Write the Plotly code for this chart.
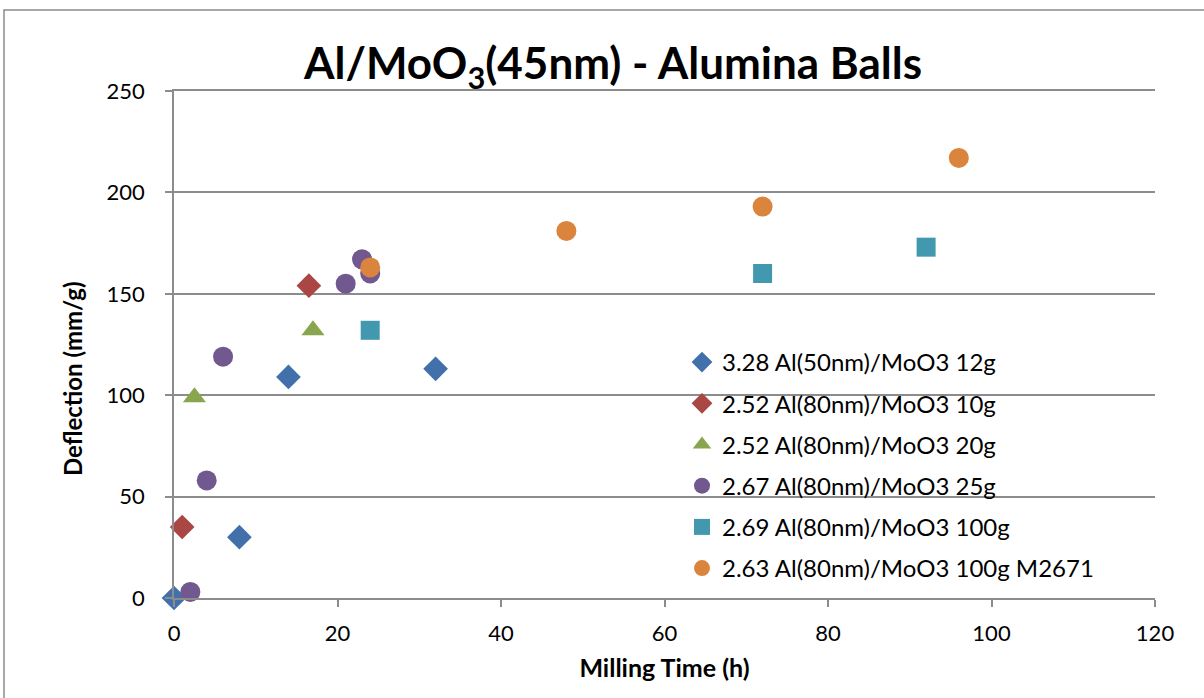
import plotly.graph_objects as go

series_names = [
    "3.28 Al(50nm)/MoO3 12g",
    "2.52 Al(80nm)/MoO3 10g",
    "2.52 Al(80nm)/MoO3 20g",
    "2.67 Al(80nm)/MoO3 25g",
    "2.69 Al(80nm)/MoO3 100g",
    "2.63 Al(80nm)/MoO3 100g M2671",
]
x_blue = [0, 8, 14, 32]
y_blue = [0, 30, 109, 113]
x_red = [1, 16.5]
y_red = [35, 154]
x_green = [2.5, 17]
y_green = [99, 132]
x_purple = [2, 4, 6, 21, 23, 24]
y_purple = [3, 58, 119, 155, 167, 160]
x_teal = [24, 72, 92]
y_teal = [132, 160, 173]
x_orange = [24, 48, 72, 96]
y_orange = [163, 181, 193, 217]

xs = [x_blue, x_red, x_green, x_purple, x_teal, x_orange]
ys = [y_blue, y_red, y_green, y_purple, y_teal, y_orange]
colors = ["#4170AB", "#AA4643", "#89A54E", "#71588F", "#4198AF", "#DB843D"]
symbols = ["diamond", "diamond", "triangle-up", "circle", "square", "circle"]
sizes = [19, 19, 20, 20, 19, 20]

fig = go.Figure()
for i in range(6):
    fig.add_trace(go.Scatter(
        x=xs[i], y=ys[i], mode="markers", name=series_names[i],
        legendgroup=f"g{i}", cliponaxis=False,
        marker=dict(symbol=symbols[i], color=colors[i], size=sizes[i], line=dict(width=0)),
    ))

font_family = "Lato, Open Sans, sans-serif"
L, R, T, B = 174, 49, 91, 100
W, H = 1204, 698
pw, ph = W - L - R, H - T - B
grey = "#8c8c8c"

fig.update_layout(
    width=W, height=H,
    margin=dict(l=L, r=R, t=T, b=B),
    paper_bgcolor="white", plot_bgcolor="white",
    font=dict(family=font_family, color="black", size=22),
    title=dict(text="<b>Al/MoO<sub>3</sub>(45nm) - Alumina Balls</b>",
               x=(613 - L) / pw, xref="paper", xanchor="center",
               y=1 - 64 / H, yanchor="middle",
               font=dict(size=44, family=font_family)),
    xaxis=dict(range=[0, 120], dtick=20, showgrid=False, zeroline=False,
               showline=True, linecolor=grey, linewidth=1.5, mirror=True,
               ticks="outside", ticklen=7, tickcolor=grey, tickwidth=1.5,
               tickfont=dict(size=22), ticklabelstandoff=8,
               title=dict(text="<b>Milling Time (h)</b>", font=dict(size=25), standoff=14)),
    yaxis=dict(range=[0, 250], dtick=50, showgrid=True, gridcolor=grey, gridwidth=1.5,
               zeroline=False, showline=True, linecolor=grey, linewidth=1.5,
               ticks="outside", ticklen=7, tickcolor=grey, tickwidth=1.5,
               tickfont=dict(size=22), ticklabelstandoff=16),
    legend=dict(x=(682 - L) / pw, y=(598 - 340) / ph, xanchor="left", yanchor="top",
                bgcolor="rgba(0,0,0,0)", font=dict(size=24, family=font_family),
                tracegroupgap=7, itemwidth=30),
    showlegend=True,
)

fig.add_annotation(text="<b>Deflection (mm/g)</b>", textangle=-90,
                   xref="paper", yref="paper",
                   x=(72 - L) / pw, y=(598 - 379) / ph,
                   xanchor="center", yanchor="middle", showarrow=False,
                   font=dict(size=24, family=font_family, color="black"))

fig.add_shape(type="rect", xref="paper", yref="paper",
              x0=(4 - L) / pw, x1=(1215 - L) / pw,
              y0=(598 - 720) / ph, y1=(598 - 10) / ph,
              line=dict(color=grey, width=1.5), fillcolor="rgba(0,0,0,0)", layer="below")

fig.write_html("out.html", config={"displayModeBar": False},
               post_script="document.body.style.margin='0';")
